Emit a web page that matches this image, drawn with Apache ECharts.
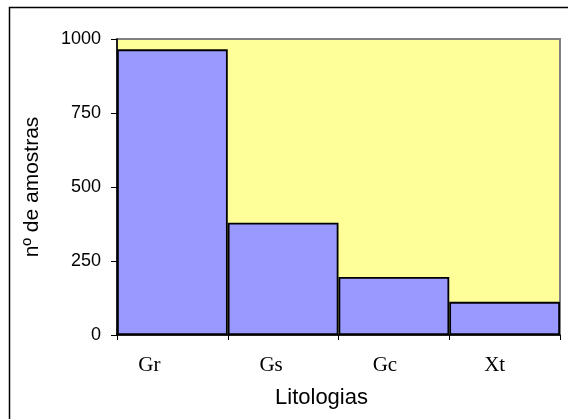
<!DOCTYPE html>
<html>
<head>
<meta charset="utf-8">
<script src="https://cdn.jsdelivr.net/npm/echarts@6/dist/echarts.min.js"></script>
<style>
  html, body { margin: 0; padding: 0; background: #ffffff; }
  #chart { width: 568px; height: 419px; }
</style>
</head>
<body>
<div id="chart"></div>
<script>
// Número de amostras por litologia
const categories = ['Gr', 'Gs', 'Gc', 'Xt'];
const sampleCounts = [965, 379, 196, 112];
const yTicks = [0, 250, 500, 750, 1000];

// Category labels sit slightly left of the bar centres
const labelShift = { Gr: 46, Gs: 24, Gc: 18, Xt: 20 };
const richLabels = {};
categories.forEach(function (c) {
  richLabels[c] = {
    fontFamily: 'Liberation Serif', fontSize: 21, color: '#000',
    padding: [0, labelShift[c], 0, 0]
  };
});

const chart = echarts.init(document.getElementById('chart'), null, { renderer: 'canvas' });

chart.setOption({
  animation: false,
  backgroundColor: '#ffffff',
  graphic: [{
    type: 'rect',
    shape: { x: 9.5, y: 7.5, width: 600, height: 500 },
    style: { fill: 'none', stroke: '#000000', lineWidth: 1.5 },
    z: -1
  }],
  grid: {
    left: 117, right: 8, top: 39, bottom: 84,
    show: true,
    backgroundColor: '#FFFF99',
    borderColor: '#808080',
    borderWidth: 2
  },
  xAxis: {
    type: 'category',
    data: categories,
    boundaryGap: true,
    name: 'Litologias',
    nameLocation: 'middle',
    nameGap: 52,
    nameTextStyle: { fontFamily: 'Liberation Sans', fontSize: 22, color: '#000', padding: [0, 34, 0, 0] },
    axisLine: { lineStyle: { color: '#000', width: 1.5 } },
    axisTick: { show: true, length: 5, inside: false, lineStyle: { color: '#000' } },
    axisLabel: {
      margin: 20,
      formatter: function (v) { return '{' + v + '|' + v + '}'; },
      rich: richLabels
    }
  },
  yAxis: {
    type: 'value',
    min: yTicks[0],
    max: yTicks[yTicks.length - 1],
    interval: 250,
    name: 'nº de amostras',
    nameLocation: 'middle',
    nameRotate: 90,
    nameGap: 74,
    nameTextStyle: { fontFamily: 'Liberation Sans', fontSize: 21, color: '#000' },
    axisLine: { show: true, lineStyle: { color: '#000', width: 1.5 } },
    axisTick: { show: true, length: 6, lineStyle: { color: '#000' } },
    axisLabel: {
      fontFamily: 'Liberation Sans', fontSize: 18, color: '#000', margin: 16,
      formatter: function (v) { return String(v); }
    },
    splitLine: { show: false }
  },
  series: [{
    type: 'bar',
    data: sampleCounts,
    barCategoryGap: '0%',
    itemStyle: { color: '#9999FF', borderColor: '#000000', borderWidth: 1.8 }
  }]
});
</script>
</body>
</html>
